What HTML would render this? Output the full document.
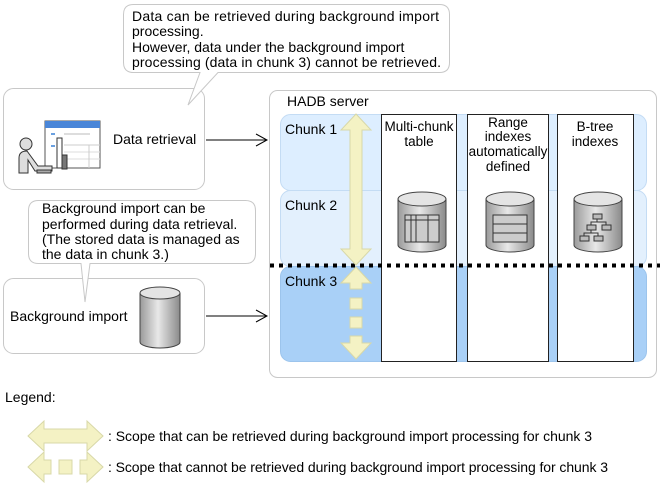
<!DOCTYPE html>
<html><head><style>
html,body{margin:0;padding:0;background:#fff;}
svg{display:block;font-family:"Liberation Sans",Arial,sans-serif;font-size:14px;fill:#000;}
</style></head><body>
<svg width="663" height="487" viewBox="0 0 663 487" xmlns="http://www.w3.org/2000/svg">
<defs>
<linearGradient id="cyl" x1="0" x2="1" y1="0" y2="0">
<stop offset="0" stop-color="#9a9a9a"/><stop offset="0.45" stop-color="#e8e8e8"/><stop offset="1" stop-color="#8a8a8a"/>
</linearGradient>
</defs>
<rect x="3.5" y="88.5" width="201" height="101" rx="10" fill="#fff" stroke="#c8c8c8"/>
<rect x="3.5" y="278.5" width="201" height="75" rx="10" fill="#fff" stroke="#c8c8c8"/>
<path d="M133.5,4.5 H439.5 Q449.5,4.5 449.5,14.5 V62.5 Q449.5,72.5 439.5,72.5 H218 L188,105 L200,72.5 H133.5 Q123.5,72.5 123.5,62.5 V14.5 Q123.5,4.5 133.5,4.5Z" fill="#fff" stroke="#c8c8c8"/>
<text x="132" y="21" textLength="307">Data can be retrieved during background import</text>
<text x="132" y="36">processing.</text>
<text x="132" y="52">However, data under the background import</text>
<text x="132" y="67" textLength="309">processing (data in chunk 3) cannot be retrieved.</text>
<path d="M38.5,200.5 H245.5 Q255.5,200.5 255.5,210.5 V253.5 Q255.5,263.5 245.5,263.5 H90 L85,302 L81,263.5 H38.5 Q28.5,263.5 28.5,253.5 V210.5 Q28.5,200.5 38.5,200.5Z" fill="#fff" stroke="#c8c8c8"/>
<text x="42" y="213">Background import can be</text>
<text x="42" y="229">performed during data retrieval.</text>
<text x="42" y="244">(The stored data is managed as</text>
<text x="42" y="259">the data in chunk 3.)</text>
<rect x="45" y="121" width="55" height="47" fill="#fff" stroke="#555"/>
<rect x="45" y="121" width="55" height="7" fill="#4a86d8"/>
<rect x="51" y="133" width="4" height="2" fill="#6aa0e0"/><rect x="51" y="145" width="4" height="2" fill="#6aa0e0"/>
<line x1="64" y1="134" x2="90" y2="134" stroke="#bbb"/><line x1="64" y1="145" x2="100" y2="145" stroke="#ccc"/>
<line x1="64" y1="152" x2="100" y2="152" stroke="#ddd"/><line x1="64" y1="159" x2="100" y2="159" stroke="#ddd"/>
<line x1="89" y1="145" x2="89" y2="168" stroke="#ccc"/>
<rect x="57" y="138" width="5" height="30" fill="#fff" stroke="#333"/>
<rect x="62" y="155" width="5" height="14" fill="#777" stroke="#333"/>
<circle cx="26" cy="144" r="6" fill="#ddd" stroke="#333"/>
<path d="M19,173 V158 Q19,151 27,151 L38,166 H52 V171 H35 L28,160 V173Z" fill="#ddd" stroke="#333"/>
<rect x="37" y="170" width="14" height="3" fill="#aaa" stroke="#333"/>
<text x="113" y="144">Data retrieval</text>
<text x="10" y="321">Background import</text>
<path d="M140,293 V342 A20,6 0 0 0 180,342 V293" fill="url(#cyl)" stroke="#444"/>
<ellipse cx="160" cy="293" rx="20" ry="6" fill="#e4e4e4" stroke="#444"/>
<line x1="206" y1="140" x2="266" y2="140" stroke="#000"/>
<path d="M256,134 L267,140 L256,146" fill="none" stroke="#000"/>
<line x1="206" y1="316" x2="266" y2="316" stroke="#000"/>
<path d="M256,310 L267,316 L256,322" fill="none" stroke="#000"/>
<rect x="269.5" y="90.5" width="387" height="287" rx="8" fill="#fff" stroke="#c8c8c8"/>
<text x="287" y="106">HADB server</text>
<rect x="280.5" y="114.5" width="366" height="76" rx="10" fill="#ddeeff" stroke="#c4dcf4"/>
<rect x="280.5" y="190.5" width="366" height="76" rx="10" fill="#e3f0fd" stroke="#c4dcf4"/>
<rect x="280.5" y="266.5" width="366" height="95" rx="10" fill="#a9d0f7" stroke="#9cc4ec"/>
<text x="285" y="134">Chunk 1</text>
<text x="285" y="210">Chunk 2</text>
<text x="285" y="286">Chunk 3</text>
<rect x="381.5" y="114.5" width="75" height="247" fill="#fff" stroke="#222"/>
<rect x="467.5" y="114.5" width="81" height="247" fill="#fff" stroke="#222"/>
<rect x="557.5" y="114.5" width="76" height="247" fill="#fff" stroke="#222"/>
<g text-anchor="middle" font-size="13.5">
<text x="419" y="131">Multi-chunk</text><text x="419" y="146">table</text>
<text x="508" y="127">Range</text><text x="508" y="141">indexes</text><text x="508" y="156">automatically</text><text x="508" y="171">defined</text>
<text x="595" y="131">B-tree</text><text x="595" y="146">indexes</text>
</g>
<g stroke="#444">
<path d="M398,199 V245 A24,7 0 0 0 446,245 V199" fill="url(#cyl)"/><ellipse cx="422" cy="199" rx="24" ry="7" fill="#e4e4e4"/>
<path d="M486,199 V245 A24,7 0 0 0 534,245 V199" fill="url(#cyl)"/><ellipse cx="510" cy="199" rx="24" ry="7" fill="#e4e4e4"/>
<path d="M574,199 V245 A24,7 0 0 0 622,245 V199" fill="url(#cyl)"/><ellipse cx="598" cy="199" rx="24" ry="7" fill="#e4e4e4"/>
</g>
<g fill="none" stroke="#333">
<rect x="405" y="215" width="34" height="27" fill="#ccc"/>
<line x1="405" y1="220" x2="439" y2="220"/><line x1="411" y1="215" x2="411" y2="242"/><line x1="416" y1="215" x2="416" y2="242"/><line x1="428" y1="215" x2="428" y2="242"/>
<rect x="493" y="215" width="34" height="27" fill="#ccc"/>
<line x1="493" y1="224" x2="527" y2="224"/><line x1="493" y1="233" x2="527" y2="233"/>
<rect x="593" y="214" width="9" height="5" fill="#bbb"/><rect x="587" y="225" width="9" height="5" fill="#bbb"/><rect x="602" y="225" width="9" height="5" fill="#bbb"/>
<rect x="580" y="236" width="9" height="5" fill="#bbb"/><rect x="594" y="236" width="9" height="5" fill="#bbb"/>
<path d="M597,219 V222 H591 V225 M597,222 H606 V225 M591,230 V233 H584 V236 M591,233 H598 V236"/>
</g>
<line x1="270" y1="265.5" x2="660" y2="265.5" stroke="#000" stroke-width="4" stroke-dasharray="4,5"/>
<g fill="#f4f2c4" stroke="#d8d8a8">
<path d="M356,114 L371,130 H362 V249 H371 L356,265 L341,249 H350 V130 H341Z"/>
<path d="M356,267 L371,283 H362 V289 H350 V283 H341Z"/>
<rect x="350" y="298" width="12" height="11"/>
<rect x="350" y="317" width="12" height="11"/>
<path d="M350,336 H362 V343 H371 L356,359 L341,343 H350Z"/>
<path d="M28,436 L44,421 V429 H87 V421 L103,436 L87,451 V443 H44 V451Z"/>
<path d="M28,467 L44,452 V460 H51 V474 H44 V482Z"/>
<rect x="59" y="460" width="13" height="14"/>
<path d="M103,467 L87,452 V460 H80 V474 H87 V482Z"/>
</g>
<text x="5" y="402">Legend:</text>
<text x="108" y="441" textLength="484">: Scope that can be retrieved during background import processing for chunk 3</text>
<text x="108" y="472" textLength="500">: Scope that cannot be retrieved during background import processing for chunk 3</text>
</svg>
</body></html>
